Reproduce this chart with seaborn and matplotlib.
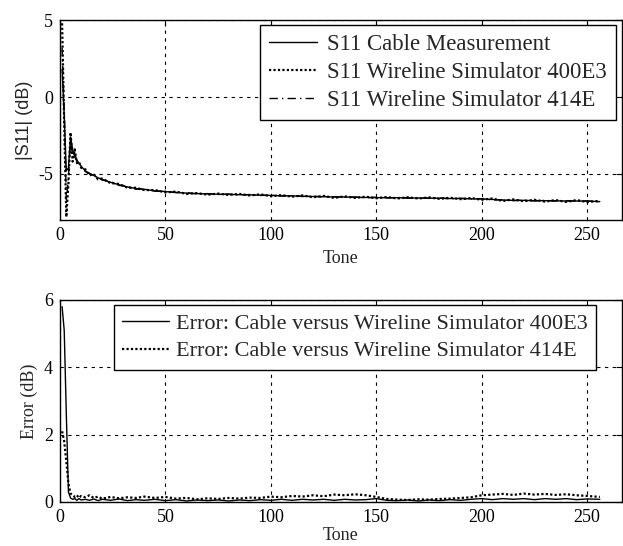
"""
S11 of cable vs. wireline simulators, and error per tone.
"""
import numpy as np
import pandas as pd
import matplotlib
matplotlib.use("Agg")
import matplotlib.pyplot as plt
import seaborn as sns

TONES = [1, 2, 3, 4, 5, 6, 7, 8, 9, 10, 12, 14, 16, 18, 20, 24, 28, 32, 36, 40,
         45, 50, 55, 60, 65, 70, 75, 80, 85, 90, 95, 100, 105, 110, 115, 120,
         125, 130, 135, 140, 145, 150, 155, 160, 165, 170, 175, 180, 185, 190,
         195, 200, 205, 210, 215, 220, 225, 230, 235, 240, 245, 250, 256]

S11_CABLE = [1.8, -1.2, -4.8, -4.6, -2.6, -3.4, -3.9, -4.1, -4.3, -4.5, -4.8, -5.0,
             -5.1, -5.25, -5.35, -5.55, -5.7, -5.85, -5.95, -6.0, -6.1, -6.15,
             -6.2, -6.25, -6.28, -6.3, -6.32, -6.33, -6.35, -6.36, -6.38, -6.4,
             -6.42, -6.43, -6.45, -6.47, -6.48, -6.5, -6.5, -6.52, -6.53, -6.54,
             -6.55, -6.55, -6.56, -6.57, -6.57, -6.58, -6.6, -6.6, -6.62, -6.63,
             -6.66, -6.7, -6.72, -6.72, -6.74, -6.74, -6.75, -6.76, -6.76, -6.77,
             -6.8]

S11_400E3 = [4.8, -1.8, -7.8, -5.6, -2.3, -4.2, -3.4, -4.3, -4.2, -4.6, -4.7, -5.1,
             -5.0, -5.35, -5.3, -5.6, -5.65, -5.9, -5.9, -6.05, -6.05, -6.2,
             -6.15, -6.3, -6.25, -6.35, -6.28, -6.37, -6.3, -6.4, -6.33, -6.45,
             -6.38, -6.48, -6.4, -6.52, -6.43, -6.56, -6.46, -6.56, -6.48, -6.58,
             -6.5, -6.6, -6.52, -6.6, -6.53, -6.62, -6.55, -6.64, -6.57, -6.68,
             -6.6, -6.76, -6.66, -6.78, -6.68, -6.8, -6.7, -6.82, -6.7, -6.83,
             -6.75]

S11_414E = [3.2, -0.8, -6.8, -5.2, -2.9, -3.8, -3.6, -4.2, -4.4, -4.5, -4.85, -4.95,
            -5.15, -5.2, -5.4, -5.5, -5.75, -5.8, -6.0, -5.98, -6.12, -6.12,
            -6.22, -6.22, -6.3, -6.28, -6.34, -6.31, -6.37, -6.34, -6.4, -6.38,
            -6.44, -6.41, -6.47, -6.45, -6.5, -6.48, -6.52, -6.5, -6.55, -6.52,
            -6.57, -6.53, -6.58, -6.55, -6.59, -6.56, -6.62, -6.58, -6.64, -6.61,
            -6.69, -6.68, -6.74, -6.7, -6.76, -6.72, -6.77, -6.74, -6.78, -6.75,
            -6.82]

ERR_400E3 = [5.8, 5.1, 2.6, 0.3, 0.12, 0.08, 0.1, 0.05, 0.1, 0.06, 0.08, 0.05,
             0.09, 0.04, 0.08, 0.05, 0.09, 0.04, 0.07, 0.05, 0.08, 0.04, 0.07,
             0.03, 0.06, 0.04, 0.06, 0.03, 0.06, 0.04, 0.07, 0.05, 0.08, 0.05,
             0.08, 0.06, 0.08, 0.05, 0.08, 0.06, 0.07, 0.1, 0.05, 0.04, 0.06,
             0.03, 0.06, 0.04, 0.07, 0.05, 0.08, 0.1, 0.07, 0.1, 0.08, 0.1, 0.07,
             0.1, 0.08, 0.1, 0.07, 0.09, 0.08]

ERR_414E = [2.1, 1.8, 1.2, 0.55, 0.25, 0.2, 0.15, 0.2, 0.12, 0.18, 0.14, 0.2,
            0.12, 0.16, 0.1, 0.15, 0.11, 0.14, 0.12, 0.16, 0.12, 0.15, 0.1,
            0.12, 0.08, 0.11, 0.09, 0.12, 0.1, 0.13, 0.12, 0.16, 0.14, 0.18,
            0.16, 0.2, 0.17, 0.22, 0.2, 0.23, 0.2, 0.15, 0.09, 0.07, 0.06, 0.08,
            0.07, 0.09, 0.1, 0.12, 0.14, 0.2, 0.22, 0.24, 0.21, 0.25, 0.22, 0.24,
            0.21, 0.23, 0.2, 0.18, 0.15]

sns.set_style("white")
plt.rcParams.update({
    "font.family": ["Liberation Serif", "DejaVu Serif"],
    "font.size": 13,
    "axes.unicode_minus": False,
    "xtick.direction": "in",
    "ytick.direction": "in",
    "xtick.top": True,
    "ytick.right": True,
    "xtick.major.size": 4,
    "ytick.major.size": 4,
    "axes.edgecolor": "black",
    "axes.linewidth": 1.0,
})

top_df = pd.DataFrame({"tone": TONES, "cable": S11_CABLE,
                       "sim400": S11_400E3, "sim414": S11_414E})
bot_df = pd.DataFrame({"tone": TONES, "e400": ERR_400E3, "e414": ERR_414E})

fig = plt.figure(figsize=(6.23, 5.46), dpi=100)
ax1 = fig.add_axes([0.0963, 0.597, 0.902, 0.366])
ax2 = fig.add_axes([0.0963, 0.0806, 0.902, 0.370])

sns.lineplot(data=top_df, x="tone", y="cable", ax=ax1, color="black", lw=1.0,
             label="S11 Cable Measurement")
sns.lineplot(data=top_df, x="tone", y="sim400", ax=ax1, color="black", lw=1.6,
             linestyle=(0, (1, 1)), label="S11 Wireline Simulator 400E3")
sns.lineplot(data=top_df, x="tone", y="sim414", ax=ax1, color="black", lw=1.0,
             linestyle=(0, (6, 3, 1, 3)), label="S11 Wireline Simulator 414E")

sns.lineplot(data=bot_df, x="tone", y="e400", ax=ax2, color="black", lw=1.0,
             label="Error: Cable versus Wireline Simulator 400E3")
sns.lineplot(data=bot_df, x="tone", y="e414", ax=ax2, color="black", lw=1.6,
             linestyle=(0, (1, 1)), label="Error: Cable versus Wireline Simulator 414E")

for ax, right, fs, pad, lpad in ((ax1, 0.989, 16.5, 0.45, 4), (ax2, 0.954, 16, 0.3, 0.5)):
    ax.set_xlim(0, 266.5)
    ax.set_xticks([0, 50, 100, 150, 200, 250])
    ax.grid(True, color="black", linestyle=(0, (3, 4)), linewidth=0.8)
    ax.set_xlabel("Tone", fontsize=13, labelpad=lpad)
    ax.tick_params(labelsize=13, colors="black", pad=5)
    leg = ax.legend(loc="upper right", bbox_to_anchor=(right, 0.975),
                    fontsize=fs, frameon=True, fancybox=False,
                    edgecolor="black", framealpha=1, handlelength=2.1,
                    borderpad=0.39, labelspacing=0.3, handletextpad=pad,
                    borderaxespad=0)
    leg.get_frame().set_linewidth(1.0)

ax1.set_ylim(-8, 5)
ax1.set_yticks([-5, 0, 5])
ax1.set_ylabel("|S11| (dB)", fontsize=13, family=["Liberation Sans", "DejaVu Sans"])

ax2.set_ylim(0, 6)
ax2.set_yticks([0, 2, 4, 6])
ax2.set_ylabel("Error (dB)", fontsize=13)

fig.savefig("out.png", dpi=100)
plt.close(fig)
